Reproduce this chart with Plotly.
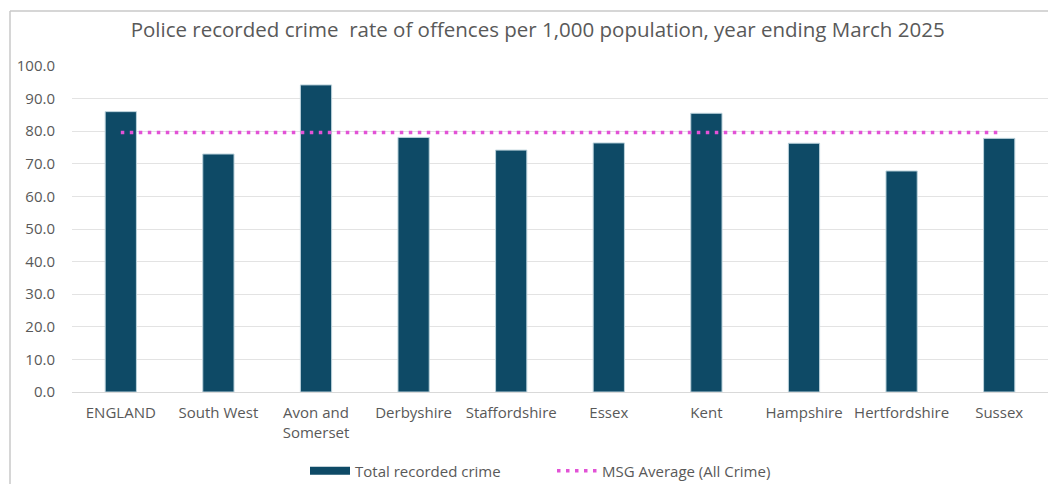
import plotly.graph_objects as go

categories = ["ENGLAND", "South West", "Avon and Somerset", "Derbyshire", "Staffordshire",
              "Essex", "Kent", "Hampshire", "Hertfordshire", "Sussex"]
total_crime = [86.0, 73.0, 94.2, 78.1, 74.2, 76.4, 85.5, 76.3, 67.8, 77.8]
msg_average = [79.6] * len(categories)
y_ticks = [0, 10, 20, 30, 40, 50, 60, 70, 80, 90, 100]
tick_labels = [c.replace("Avon and Somerset", "Avon and<br>Somerset") for c in categories]

FONT = "Open Sans"
GREY = "#595959"
BAR = "#0E4A66"

fig = go.Figure()
fig.add_trace(go.Bar(
    x=categories, y=total_crime, name="Total recorded crime", showlegend=False,
    marker=dict(color=BAR, line=dict(color="#bcd3dc", width=1)),
))
# legend proxy for the bar series (wide rectangle symbol like the original)
fig.add_trace(go.Scatter(
    x=[None], y=[None], name="Total recorded crime", mode="lines",
    line=dict(color=BAR, width=8),
))
fig.add_trace(go.Scatter(
    x=categories, y=msg_average, name="MSG Average (All Crime)", mode="lines",
    line=dict(color="#E252D6", width=3.5, dash="3.5px,5.5px"),
))

fig.update_layout(
    width=1048, height=484,
    margin=dict(l=72, r=0, t=66, b=92, autoexpand=False),
    paper_bgcolor="white", plot_bgcolor="white",
    bargap=0.68,
    font=dict(family=FONT, color=GREY, size=15),
    title=dict(text="Police recorded crime  rate of offences per 1,000 population, year ending March 2025",
               x=0.513, xref="container", y=1 - 30 / 484, yanchor="middle", xanchor="center",
               font=dict(family=FONT, size=20.5, color=GREY)),
    legend=dict(orientation="h", x=(305 - 72) / 976, xanchor="left", y=-(471 - 392) / 326, yanchor="middle",
                font=dict(family=FONT, size=15, color=GREY), itemwidth=40,
                entrywidth=192, entrywidthmode="pixels",
                tracegroupgap=0, traceorder="normal"),
    showlegend=True,
    shapes=[
        dict(type="line", xref="paper", yref="paper", x0=(10 - 72) / 976, x1=(10 - 72) / 976,
             y0=(392 - 11) / 326, y1=-(484 - 392) / 326 - 0.01,
             line=dict(color="#c8c8c8", width=1.5)),
        dict(type="line", xref="paper", yref="paper", x0=(10 - 72) / 976, x1=1.01,
             y0=(392 - 11) / 326, y1=(392 - 11) / 326,
             line=dict(color="#c8c8c8", width=1.5)),
    ],
)
fig.update_xaxes(tickvals=categories, ticktext=tick_labels, showgrid=False, automargin=False,
                 showline=True, linecolor="#d9d9d9", linewidth=1, ticks="",
                 tickfont=dict(family=FONT, size=15, color=GREY), ticklabelstandoff=7)
fig.update_yaxes(range=[0, 100], tickvals=y_ticks, ticktext=[f"{v:.1f}" for v in y_ticks],
                 showgrid=True, gridcolor="#e3e3e3", gridwidth=1, zeroline=False, automargin=False,
                 ticks="", tickfont=dict(family=FONT, size=15, color=GREY), ticklabelstandoff=16)

fig.write_html("out.html")
